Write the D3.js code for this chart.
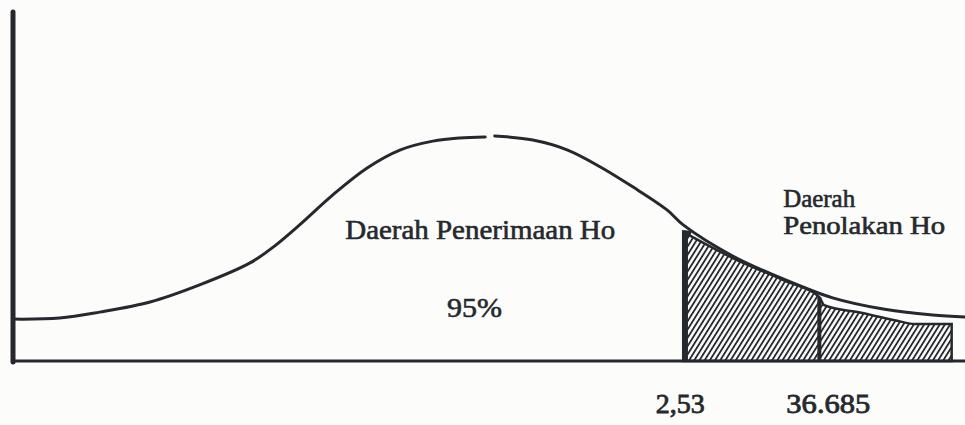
<!DOCTYPE html>
<html>
<head>
<meta charset="utf-8">
<script src="https://cdn.jsdelivr.net/npm/d3@7"></script>
<style>
  html, body { margin: 0; padding: 0; background: #fcfcfb; }
  svg { display: block; }
  text { font-family: "Liberation Serif", "DejaVu Serif", serif; fill: #25292d; }
</style>
</head>
<body>
<div id="chart"></div>
<script>
// curve (x, density) in arbitrary 0-100 units; null = small break in the print
const CURVE_X = [0, 4.9, 9.1, 14.4, 19.6, 24.9, 27.5, 30.1, 33.6, 37.2, 40.7, 44.1, 46.9, 49.6, 50.1, 50.6, 54.6, 58.2, 61.7, 65.1, 68.7, 70.4, 75.6, 80.9, 86.1, 91.4, 96.6, 100];
const CURVE_Y = [12.0, 12.3, 14.0, 16.9, 21.8, 28.1, 33.0, 39.0, 47.6, 55.3, 60.5, 63.0, 63.9, 64.2, null, 64.5, 63.3, 60.5, 55.6, 49.9, 43.3, 39.0, 30.1, 23.5, 18.1, 14.9, 13.2, 12.6];

// hatched rejection region: top edge, split at the second critical value
const HATCH_X = [70.4, 75.6, 80.9, 84.7, 85.2, 89.1, 92.6, 94.7, 98.6];
const HATCH_Y = [37.0, 29.5, 23.2, 18.3, 16.0, 13.8, 11.7, 10.6, 10.6];
const CRIT = [70.4, 84.7];
const TICK_LABELS = ['2,53', '36.685'];

const LABELS = [
  { text: 'Daerah Penerimaan Ho', x: 34.9, y: 35.0, len: 270 },
  { text: '95%', x: 45.6, y: 12.6, len: 55 },
  { text: 'Daerah', x: 80.9, y: 44.1, len: 72 },
  { text: 'Penolakan Ho', x: 80.9, y: 36.4, len: 162 }
];

const W = 965, H = 425;
const m = { l: 13, r: 0, t: 12, b: 64 };
const x = d3.scaleLinear().domain([0, 100]).range([m.l, W - m.r]);
const y = d3.scaleLinear().domain([0, 100]).range([H - m.b, m.t]);
const ink = '#25292d';

const svg = d3.select('#chart').append('svg').attr('width', W).attr('height', H);
svg.append('rect').attr('width', W).attr('height', H).attr('fill', '#fcfcfb');

const defs = svg.append('defs');
const pat = defs.append('pattern').attr('id', 'hatch').attr('patternUnits', 'userSpaceOnUse')
  .attr('width', 4.4).attr('height', 4.4).attr('patternTransform', 'rotate(32)');
pat.append('rect').attr('width', 4.4).attr('height', 4.4).attr('fill', '#fafafa');
pat.append('line').attr('x1', 0).attr('y1', 0).attr('x2', 0).attr('y2', 4.4)
  .attr('stroke', ink).attr('stroke-width', 3.6);

// hatched area
const hatch = HATCH_X.map((v, i) => [v, HATCH_Y[i]]);
svg.append('path').datum(hatch)
  .attr('d', d3.area().x(d => x(d[0])).y0(y(0)).y1(d => y(d[1])).curve(d3.curveMonotoneX))
  .attr('fill', 'url(#hatch)').attr('stroke', ink).attr('stroke-width', 2.5);

// critical value verticals
svg.append('line').attr('x1', x(CRIT[0]) + 2).attr('x2', x(CRIT[0]) + 2)
  .attr('y1', y(HATCH_Y[0])).attr('y2', y(0)).attr('stroke', ink).attr('stroke-width', 5.5);
svg.append('line').attr('x1', x(CRIT[1])).attr('x2', x(CRIT[1]))
  .attr('y1', y(HATCH_Y[3])).attr('y2', y(0)).attr('stroke', ink).attr('stroke-width', 4);
svg.append('line').attr('x1', x(HATCH_X[0])).attr('x2', x(HATCH_X[0]) + 8)
  .attr('y1', y(HATCH_Y[0])).attr('y2', y(HATCH_Y[0]) + 1).attr('stroke', ink).attr('stroke-width', 4);

// density curve
const pts = CURVE_X.map((v, i) => [v, CURVE_Y[i]]);
svg.append('path').datum(pts)
  .attr('d', d3.line().defined(d => d[1] !== null).x(d => x(d[0])).y(d => y(d[1])).curve(d3.curveCatmullRom))
  .attr('fill', 'none').attr('stroke', ink).attr('stroke-width', 3).attr('stroke-linecap', 'round');

// axes
svg.append('line').attr('x1', x(0)).attr('x2', W).attr('y1', y(0)).attr('y2', y(0))
  .attr('stroke', ink).attr('stroke-width', 3);
svg.append('line').attr('x1', x(0)).attr('x2', x(0)).attr('y1', y(100)).attr('y2', y(0) + 1)
  .attr('stroke', ink).attr('stroke-width', 5).attr('stroke-linecap', 'round');

// tick labels under the critical values
svg.selectAll('text.tick').data(CRIT).join('text').attr('class', 'tick')
  .attr('x', (d, i) => x(d) + (i === 0 ? -3 : 9)).attr('y', y(0) + 52)
  .attr('text-anchor', 'middle').attr('font-size', 27)
  .attr('textLength', (d, i) => i === 0 ? 49 : 84).attr('lengthAdjust', 'spacingAndGlyphs')
  .attr('stroke', ink).attr('stroke-width', 0.8)
  .text((d, i) => TICK_LABELS[i]);

svg.selectAll('text.lab').data(LABELS).join('text').attr('class', 'lab')
  .attr('x', d => x(d.x)).attr('y', d => y(d.y))
  .attr('font-size', d => d.x > 80 ? 25 : 27).attr('textLength', d => d.len).attr('lengthAdjust', 'spacingAndGlyphs')
  .attr('stroke', ink).attr('stroke-width', 0.6)
  .text(d => d.text);
</script>
</body>
</html>
